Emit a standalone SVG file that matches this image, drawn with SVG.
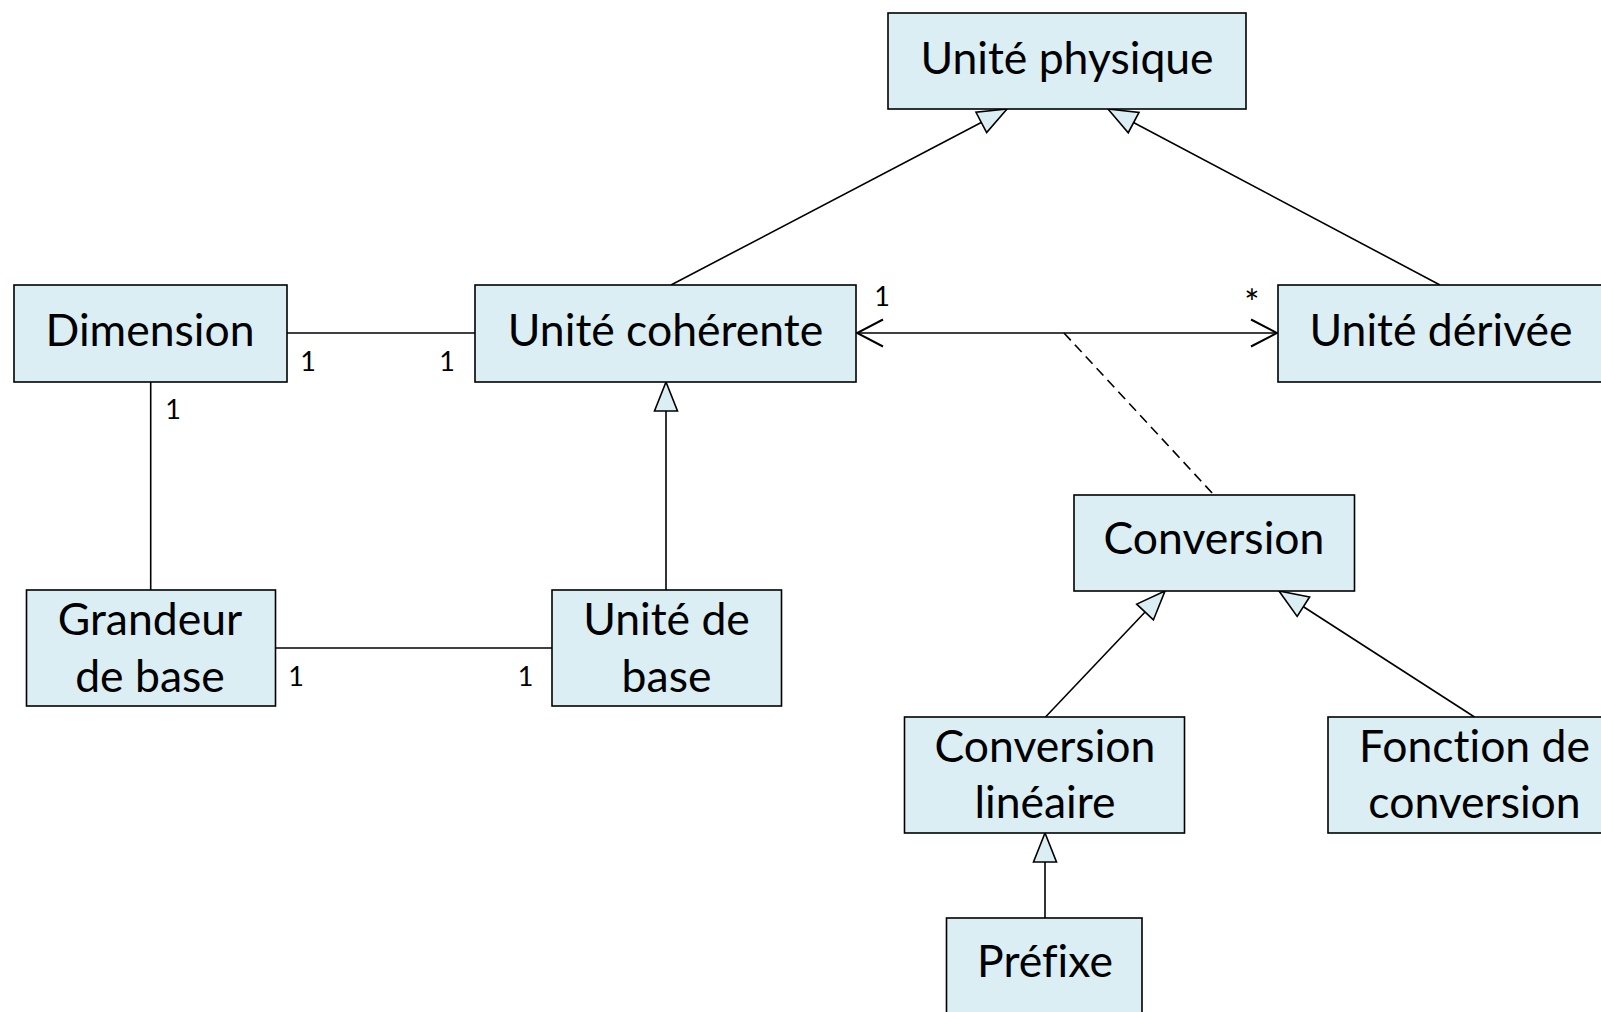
<svg xmlns="http://www.w3.org/2000/svg" width="1601" height="1012" viewBox="0 0 1601 1012">
<style>
.box{fill:#DAEEF3;stroke:#000;stroke-width:1.6}
.t{font-family:Lato,"Open Sans",sans-serif;font-size:44.5px;fill:#000;text-anchor:middle;font-variant-ligatures:none}
.m{font-family:Lato,"Open Sans",sans-serif;font-size:27px;fill:#000;text-anchor:middle}
.ln{stroke:#000;stroke-width:1.6;fill:none}
</style>
<defs>
<marker id="gen" markerUnits="userSpaceOnUse" viewBox="-32 -14 34 28" refX="0" refY="0" markerWidth="34" markerHeight="28" orient="auto">
<path d="M0,0 L-29,-11.5 L-29,11.5 Z" fill="#DAEEF3" stroke="#000" stroke-width="1.6"/>
</marker>
<marker id="open" markerUnits="userSpaceOnUse" viewBox="-30 -16 32 32" refX="0" refY="0" markerWidth="32" markerHeight="32" orient="auto-start-reverse">
<path d="M-26,-13.5 L0,0 L-26,13.5" fill="none" stroke="#000" stroke-width="2"/>
</marker>
</defs>
<rect width="1601" height="1012" fill="#fff"/>
<g id="connectors">
<line class="ln" x1="671" y1="285" x2="1007" y2="109" marker-end="url(#gen)"/>
<line class="ln" x1="1440" y1="285" x2="1108" y2="109" marker-end="url(#gen)"/>
<line class="ln" x1="666" y1="590" x2="666" y2="382" marker-end="url(#gen)"/>
<line class="ln" x1="1045.5" y1="717" x2="1165" y2="591" marker-end="url(#gen)"/>
<line class="ln" x1="1474.5" y1="717" x2="1279" y2="591" marker-end="url(#gen)"/>
<line class="ln" x1="1045" y1="918" x2="1045" y2="833" marker-end="url(#gen)"/>
<line class="ln" x1="287" y1="333" x2="475" y2="333"/>
<line class="ln" x1="150.7" y1="382" x2="150.7" y2="590"/>
<line class="ln" x1="275.5" y1="648" x2="552" y2="648"/>
<line class="ln" x1="857" y1="333" x2="1277" y2="333" stroke-width="2" marker-start="url(#open)" marker-end="url(#open)"/>
<line class="ln" x1="1064" y1="333" x2="1214" y2="495" stroke-dasharray="10,6"/>
<text class="m" x="308" y="371">1</text>
<text class="m" x="447" y="371">1</text>
<text class="m" x="173" y="419">1</text>
<text class="m" x="296" y="686">1</text>
<text class="m" x="525.5" y="686">1</text>
<text class="m" x="882" y="306">1</text>
<text class="m" x="1252" y="316" style="font-size:36px">*</text>
</g>
<g id="unite-physique">
<rect class="box" x="888" y="13" width="358" height="96"/>
<text class="t" x="1067" y="74">Unité physique</text>
</g>
<g id="dimension">
<rect class="box" x="14" y="285" width="273" height="97"/>
<text class="t" x="150" y="346">Dimension</text>
</g>
<g id="unite-coherente">
<rect class="box" x="475" y="285" width="381" height="97"/>
<text class="t" x="665.5" y="346">Unité cohérente</text>
</g>
<g id="unite-derivee">
<rect class="box" x="1278" y="285" width="340" height="97"/>
<text class="t" x="1441" y="346">Unité dérivée</text>
</g>
<g id="grandeur-de-base">
<rect class="box" x="26.5" y="590" width="249" height="116"/>
<text class="t" x="150" y="635">Grandeur</text>
<text class="t" x="150" y="692">de base</text>
</g>
<g id="unite-de-base">
<rect class="box" x="552" y="590" width="229.5" height="116"/>
<text class="t" x="666.5" y="635">Unité de</text>
<text class="t" x="666.5" y="692">base</text>
</g>
<g id="conversion">
<rect class="box" x="1074" y="495" width="280.5" height="96"/>
<text class="t" x="1214" y="554">Conversion</text>
</g>
<g id="conversion-lineaire">
<rect class="box" x="904.5" y="717" width="280" height="116"/>
<text class="t" x="1045" y="762">Conversion</text>
<text class="t" x="1045" y="818">linéaire</text>
</g>
<g id="fonction-de-conversion">
<rect class="box" x="1328" y="717" width="290" height="116"/>
<text class="t" x="1474.5" y="762">Fonction de</text>
<text class="t" x="1474.5" y="818">conversion</text>
</g>
<g id="prefixe">
<rect class="box" x="946.5" y="918" width="195.5" height="110"/>
<text class="t" x="1045" y="977">Préfixe</text>
</g>
</svg>
